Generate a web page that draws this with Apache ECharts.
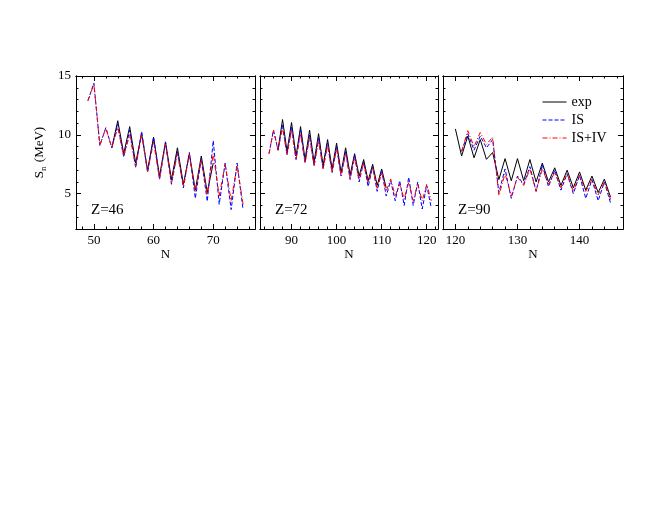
<!DOCTYPE html>
<html><head><meta charset="utf-8">
<script src="https://cdn.jsdelivr.net/npm/echarts@6/dist/echarts.min.js"></script>
<style>html,body{margin:0;padding:0;background:#fff}#c{width:660px;height:510px}</style>
</head><body><div id="c"></div>
<script>
const seriesNames = ['exp', 'IS', 'IS+IV'];
const panelLabels = ['Z=46', 'Z=72', 'Z=90'];

// Z=46
const n46Exp = [53,54,55,56,57,58,59,60,61,62,63,64,65,66,67,68,69,70];
const exp46  = [8.9,11.2,8.4,10.7,7.6,10.1,7.0,9.8,6.5,9.4,6.2,8.9,5.8,8.4,5.3,8.2,5.1,7.6];
const n46Calc = [49,50,51,52,53,54,55,56,57,58,59,60,61,62,63,64,65,66,67,68,69,70,71,72,73,74,75];
const is46   = [12.9,14.4,9.1,10.6,8.9,10.9,8.1,10.4,7.2,10.3,6.8,9.8,6.2,9.4,5.8,8.6,5.5,8.5,4.6,8.0,4.35,9.5,4.1,7.6,3.65,7.6,3.65];
const isiv46 = [12.9,14.3,9.1,10.6,8.9,10.6,8.2,10.0,7.3,10.0,6.9,9.4,6.3,9.2,5.9,8.4,5.6,8.4,5.2,7.9,4.9,8.4,4.8,7.5,4.4,7.4,4.1];

// Z=72
const n72Exp = [87,88,89,90,91,92,93,94,95,96,97,98,99,100,101,102,103,104,105,106,107,108,109,110,111];
const exp72  = [8.7,11.3,8.6,11.05,8.2,10.7,7.9,10.4,7.7,10.1,7.4,9.6,7.1,9.3,6.8,8.9,6.6,8.4,6.5,7.9,6.1,7.5,5.7,7.1,5.5];
const n72Calc = [85,86,87,88,89,90,91,92,93,94,95,96,97,98,99,100,101,102,103,104,105,106,107,108,109,110,111,112,113,114,115,116,117,118,119,120,121];
const is72   = [8.4,10.4,8.7,10.9,8.3,10.7,7.9,10.4,7.6,10.0,7.35,9.75,7.1,9.3,6.8,9.0,6.5,8.6,6.2,8.3,6.0,7.7,5.6,7.3,5.2,7.0,4.8,6.1,4.4,6.1,4.0,6.4,4.0,6.0,3.7,5.7,3.8];
const isiv72 = [8.4,10.4,8.7,10.6,8.3,10.4,7.9,10.1,7.6,9.75,7.35,9.5,7.1,9.1,6.8,8.8,6.5,8.4,6.3,8.05,6.2,7.6,5.9,7.2,5.45,6.8,5.2,6.25,4.8,5.8,4.55,5.95,4.4,5.8,4.4,5.8,4.4];

// Z=90
const n90Exp = [120,121,122,123,124,125,126,127,128,129,130,131,132,133,134,135,136,137,138,139,140,141,142,143,144,145];
const exp90  = [10.5,8.2,9.9,8.05,9.6,7.92,8.5,6.2,7.98,6.1,7.98,6.1,7.9,6.0,7.6,6.0,7.2,5.7,7.0,5.5,6.85,5.3,6.5,5.1,6.24,4.7];
const n90Calc = [121,122,123,124,125,126,127,128,129,130,131,132,133,134,135,136,137,138,139,140,141,142,143,144,145];
const is90   = [8.6,10.1,8.7,9.9,8.9,9.6,5.1,7.1,4.6,6.5,5.8,7.3,5.2,7.45,5.6,7.0,5.3,6.7,5.0,6.55,4.6,6.2,4.4,6.0,4.2];
const isiv90 = [8.6,10.35,9.0,10.2,9.2,9.8,4.85,6.7,4.8,6.4,5.7,7.1,5.2,7.1,5.8,6.8,5.5,6.7,5.2,6.6,5.2,6.2,4.9,6.0,4.5];

// ticks
const yMajorTicks = [5, 10, 15];
const yMinorTicks = [2,3,4,5,6,7,8,9,10,11,12,13,14,15];
const xMajor46 = [50, 60, 70];
const xMinor46 = [48,50,52,54,56,58,60,62,64,66,68,70,72,74,76];
const xMajor72 = [90, 100, 110, 120];
const xMinor72 = [84,86,88,90,92,94,96,98,100,102,104,106,108,110,112,114,116,118,120,122];
const xMajor90 = [120, 130, 140];
const xMinor90 = [118,120,122,124,126,128,130,132,134,136,138,140,142,144,146];

const FONT = 'Liberation Serif';
const panels = [
  {left: 76, width: 179, min: 47, max: 77, major: xMajor46, minor: xMinor46,
   nExp: n46Exp, exp: exp46, nCalc: n46Calc, is: is46, isiv: isiv46},
  {left: 260, width: 178, min: 83, max: 122.5, major: xMajor72, minor: xMinor72,
   nExp: n72Exp, exp: exp72, nCalc: n72Calc, is: is72, isiv: isiv72},
  {left: 443, width: 180, min: 118, max: 147, major: xMajor90, minor: xMinor90,
   nExp: n90Exp, exp: exp90, nCalc: n90Calc, is: is90, isiv: isiv90}
];
const zip = (a, b) => a.map((v, i) => [v, b[i]]);

const grid = [], xAxis = [], yAxis = [], series = [], graphic = [];
const lineC = '#000';
panels.forEach((p, i) => {
  grid.push({left: p.left, width: p.width, top: 76, height: 153, containLabel: false});
  const xBase = {gridIndex: i, type: 'value', min: p.min, max: p.max,
    splitLine: {show: false}, axisLine: {show: true, lineStyle: {color: lineC, width: 1}}};
  xAxis.push(Object.assign({}, xBase, {position: 'bottom',
    axisTick: {show: true, inside: true, length: 5, customValues: p.major, lineStyle: {color: lineC}},
    axisLabel: {show: true, customValues: p.major, color: '#000', fontFamily: FONT, fontSize: 13, margin: 5},
    name: 'N', nameLocation: 'middle', nameGap: 19,
    nameTextStyle: {color: '#000', fontFamily: FONT, fontSize: 13}}));
  xAxis.push(Object.assign({}, xBase, {position: 'bottom',
    axisTick: {show: true, inside: true, length: 2.5, customValues: p.minor, lineStyle: {color: lineC}},
    axisLabel: {show: false}}));
  xAxis.push(Object.assign({}, xBase, {position: 'top',
    axisTick: {show: true, inside: true, length: 5, customValues: p.major, lineStyle: {color: lineC}},
    axisLabel: {show: false}}));
  xAxis.push(Object.assign({}, xBase, {position: 'top',
    axisTick: {show: true, inside: true, length: 2.5, customValues: p.minor, lineStyle: {color: lineC}},
    axisLabel: {show: false}}));
  const yBase = {gridIndex: i, type: 'value', min: 2, max: 15,
    splitLine: {show: false}, axisLine: {show: true, lineStyle: {color: lineC, width: 1}}};
  const yMain = Object.assign({}, yBase, {position: 'left',
    axisTick: {show: true, inside: true, length: 5, customValues: yMajorTicks, lineStyle: {color: lineC}},
    axisLabel: {show: i === 0, customValues: yMajorTicks, color: '#000', fontFamily: FONT, fontSize: 13, margin: 5}});
  if (i === 0) {
    yMain.name = '{s|S}{n|n}{s| (MeV)}';
    yMain.nameLocation = 'middle';
    yMain.nameGap = 28;
    yMain.nameTextStyle = {color: '#000', fontFamily: FONT, fontSize: 13,
      rich: {s: {fontFamily: FONT, fontSize: 13, color: '#000'},
             n: {fontFamily: FONT, fontSize: 9, color: '#000', padding: [8, 1, 0, 0]}}};
  }
  yAxis.push(yMain);
  yAxis.push(Object.assign({}, yBase, {position: 'left',
    axisTick: {show: true, inside: true, length: 2.5, customValues: yMinorTicks, lineStyle: {color: lineC}},
    axisLabel: {show: false}}));
  yAxis.push(Object.assign({}, yBase, {position: 'right',
    axisTick: {show: true, inside: true, length: 5, customValues: yMajorTicks, lineStyle: {color: lineC}},
    axisLabel: {show: false}}));
  yAxis.push(Object.assign({}, yBase, {position: 'right',
    axisTick: {show: true, inside: true, length: 2.5, customValues: yMinorTicks, lineStyle: {color: lineC}},
    axisLabel: {show: false}}));

  const xi = i * 4, yi = i * 4;
  series.push({name: seriesNames[0], type: 'line', xAxisIndex: xi, yAxisIndex: yi,
    data: zip(p.nExp, p.exp), symbol: 'none', animation: false,
    lineStyle: {color: '#000', width: 1, type: 'solid'}, itemStyle: {color: '#000'}});
  series.push({name: seriesNames[1], type: 'line', xAxisIndex: xi, yAxisIndex: yi,
    data: zip(p.nCalc, p.is), symbol: 'none', animation: false,
    lineStyle: {color: '#0000ff', width: 1, type: [4, 2]}, itemStyle: {color: '#0000ff'}});
  series.push({name: seriesNames[2], type: 'line', xAxisIndex: xi, yAxisIndex: yi,
    data: zip(p.nCalc, p.isiv), symbol: 'none', animation: false,
    lineStyle: {color: '#ff0000', width: 1, type: [5, 2, 1, 2]}, itemStyle: {color: '#ff0000'}});

  graphic.push({type: 'text', left: p.left + 15, top: 203,
    style: {text: panelLabels[i], fill: '#000', font: '15px "' + FONT + '"'}});
});

const chart = echarts.init(document.getElementById('c'), null, {renderer: 'canvas'});
chart.setOption({
  backgroundColor: '#fff',
  animation: false,
  grid, xAxis, yAxis, series, graphic,
  legend: {
    data: seriesNames, orient: 'vertical', left: 537, top: 90,
    itemWidth: 24, itemHeight: 12, itemGap: 4,
    itemStyle: {opacity: 0},
    lineStyle: {width: 1},
    textStyle: {color: '#000', fontFamily: FONT, fontSize: 14},
    selectedMode: false
  }
});
</script></body></html>
